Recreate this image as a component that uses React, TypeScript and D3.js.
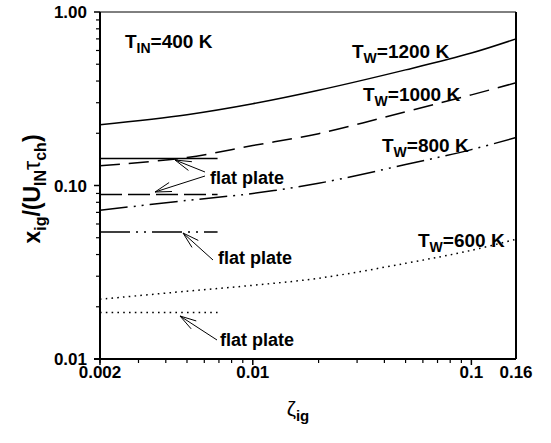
import React from "react";
import * as d3 from "d3";

const zeta = [0.002, 0.005, 0.01, 0.02, 0.05, 0.1, 0.16];
const tw1200 = [0.224, 0.256, 0.296, 0.354, 0.464, 0.58, 0.70];
const tw1000 = [0.130, 0.145, 0.170, 0.199, 0.266, 0.333, 0.391];
const tw800 = [0.072, 0.082, 0.090, 0.103, 0.132, 0.161, 0.189];
const tw600 = [0.0221, 0.0246, 0.0266, 0.0292, 0.0356, 0.0423, 0.049];

const flatStart = 0.002;
const flatEnd = 0.0069;
const flatValues = [0.143, 0.0888, 0.0539, 0.01855];

const xTickLabels = ["0.002", "0.01", "0.1", "0.16"];
const yTickLabels = ["0.01", "0.10", "1.00"];

const W = 551, H = 443;
const L = 100, R = 516, T = 12, B = 359;
const FONT = "'Liberation Sans', Arial, Helvetica, sans-serif";

export default function App() {
  const x = d3.scaleLog().domain([0.002, 0.16]).range([L, R]);
  const y = d3.scaleLog().domain([0.01, 1]).range([B, T]);

  const line = d3
    .line<[number, number]>()
    .x((d) => x(d[0]))
    .y((d) => y(d[1]))
    .curve(d3.curveCatmullRom.alpha(0.5));

  const series = [
    { v: tw1200, dash: "none" },
    { v: tw1000, dash: "20,9" },
    { v: tw800, dash: "28,6,2,6,2,6" },
    { v: tw600, dash: "1.6,4.2" },
  ];
  const flatDash = ["none", "22,6", "30,6,2,6,2,6", "1.6,4.2"];

  const xMinor: number[] = [];
  for (const dec of [0.001, 0.01]) for (let k = 2; k <= 9; k++) {
    const v = k * dec;
    if (v >= 0.002 && v <= 0.16) xMinor.push(v);
  }
  const yMinor: number[] = [];
  for (const dec of [0.01, 0.1]) for (let k = 2; k <= 9; k++) yMinor.push(k * dec);

  const arrows = [
    { tail: [205, 172], tip: [175, 160] },
    { tail: [205, 176], tip: [155, 192] },
    { tail: [213, 260], tip: [183, 233] },
    { tail: [217, 340], tip: [180, 316] },
  ];
  const barb = (tip: number[], tail: number[], sgn: number) => {
    const a = Math.atan2(tail[1] - tip[1], tail[0] - tip[0]) + sgn * 0.28;
    return [tip[0] + 17 * Math.cos(a), tip[1] + 17 * Math.sin(a)];
  };

  const label = (xx: number, yy: number, main: string, sub: string, rest: string) => (
    <text x={xx} y={yy} fontFamily={FONT} fontWeight="bold" fontSize={19} fill="#000">
      {main}
      <tspan fontSize={14} dy={5}>{sub}</tspan>
      <tspan dy={-5}>{rest}</tspan>
    </text>
  );

  return (
    <svg width={W} height={H} style={{ position: "absolute", left: 0, top: 0, background: "#fff" }}>
      <rect x={0} y={0} width={W} height={H} fill="#fff" />
      <line x1={L} x2={R} y1={T} y2={T} stroke="#000" strokeWidth={1} />
      <line x1={R} x2={R} y1={T} y2={B} stroke="#000" strokeWidth={2} />
      <line x1={L} x2={L} y1={T} y2={B} stroke="#000" strokeWidth={2} />
      <line x1={L - 6} x2={R} y1={B} y2={B} stroke="#000" strokeWidth={2} />

      {xMinor.map((v, i) => (
        <line key={"xm" + i} x1={x(v)} x2={x(v)} y1={B} y2={B + 4} stroke="#000" strokeWidth={1.2} />
      ))}
      {[0.002, 0.01, 0.1].map((v, i) => (
        <line key={"xM" + i} x1={x(v)} x2={x(v)} y1={B} y2={B + 6} stroke="#000" strokeWidth={1.5} />
      ))}
      {xTickLabels.map((s, i) => (
        <text key={"xl" + i} x={x(+s)} y={378} textAnchor="middle" fontFamily={FONT} fontWeight="bold" fontSize={17}>
          {s}
        </text>
      ))}

      {yMinor.map((v, i) => (
        <line key={"ym" + i} x1={L - 4} x2={L} y1={y(v)} y2={y(v)} stroke="#000" strokeWidth={1.2} />
      ))}
      {[0.01, 0.1, 1].map((v, i) => (
        <line key={"yM" + i} x1={L - 6} x2={L} y1={y(v)} y2={y(v)} stroke="#000" strokeWidth={1.5} />
      ))}
      {yTickLabels.map((s, i) => (
        <text key={"yl" + i} x={87} y={y(+s) + 6} textAnchor="end" fontFamily={FONT} fontWeight="bold" fontSize={17}>
          {s}
        </text>
      ))}

      {series.map((s, i) => (
        <path
          key={"c" + i}
          d={line(zeta.map((z, j) => [z, s.v[j]] as [number, number])) || ""}
          fill="none"
          stroke="#000"
          strokeWidth={1.5}
          strokeDasharray={s.dash}
        />
      ))}

      {flatValues.map((v, i) => (
        <line
          key={"f" + i}
          x1={x(flatStart)}
          x2={x(flatEnd)}
          y1={y(v)}
          y2={y(v)}
          stroke="#000"
          strokeWidth={1.5}
          strokeDasharray={flatDash[i]}
        />
      ))}

      {arrows.map((a, i) => {
        const b1 = barb(a.tip, a.tail, 1);
        const b2 = barb(a.tip, a.tail, -1);
        return (
          <g key={"a" + i} stroke="#000" strokeWidth={1} fill="none">
            <line x1={a.tail[0]} y1={a.tail[1]} x2={a.tip[0]} y2={a.tip[1]} />
            <polyline points={`${b1[0]},${b1[1]} ${a.tip[0]},${a.tip[1]} ${b2[0]},${b2[1]}`} />
          </g>
        );
      })}

      {[
        [210, 184],
        [218, 264],
        [220, 346],
      ].map((p, i) => (
        <text key={"fl" + i} x={p[0]} y={p[1]} fontFamily={FONT} fontWeight="bold" fontSize={18}>
          flat plate
        </text>
      ))}

      {label(125, 48, "T", "IN", "=400 K")}
      {label(352, 58, "T", "W", "=1200 K")}
      {label(363, 101, "T", "W", "=1000 K")}
      {label(382, 152, "T", "W", "=800 K")}
      {label(418, 247, "T", "W", "=600 K")}

      <text x={298} y={416} fontFamily={FONT} fontSize={21} textAnchor="middle">
        ζ<tspan fontSize={15} dy={5} fontWeight="bold">ig</tspan>
      </text>
      <text
        transform="translate(40,189) rotate(-90)"
        textAnchor="middle"
        fontFamily={FONT}
        fontWeight="bold"
        fontSize={23}
      >
        x<tspan fontSize={16} dy={6}>ig</tspan>
        <tspan dy={-6}>/(U</tspan>
        <tspan fontSize={16} dy={6}>IN</tspan>
        <tspan dy={-6} fontWeight="normal">τ</tspan>
        <tspan fontSize={16} dy={6}>ch</tspan>
        <tspan dy={-6}>)</tspan>
      </text>
    </svg>
  );
}
